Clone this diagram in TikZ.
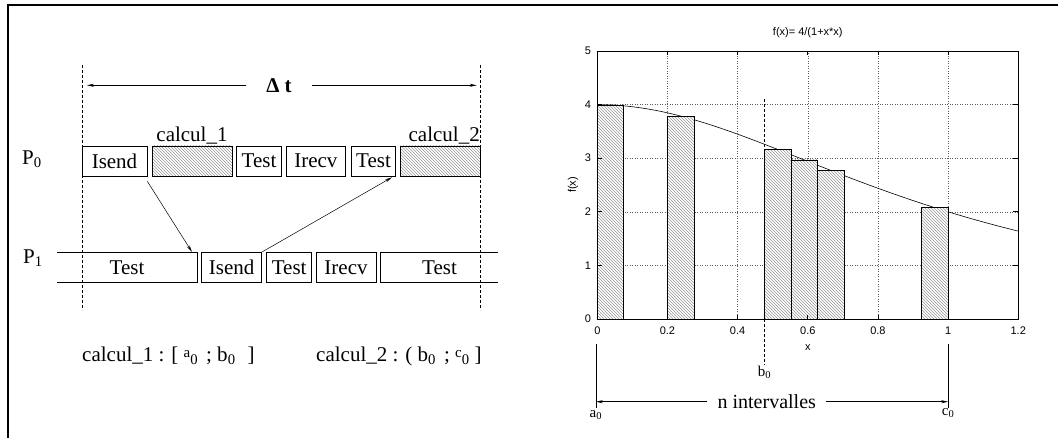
\documentclass[tikz,border=0pt]{standalone}
\usepackage{fontspec}
\setmainfont{Liberation Serif}
\newfontfamily\plotfont{Liberation Sans}
\usetikzlibrary{arrows.meta,patterns}
\newcommand\slotfont{\fontsize{21}{24}\selectfont}
\newcommand\markfont{\fontsize{15}{17}\selectfont}
\newcommand\axisfont{\plotfont\fontsize{11}{13}\selectfont}
\tikzset{
  slot/.style={draw, line width=0.6pt, minimum height=30pt, inner sep=0pt, font=\slotfont},
  calc/.style={slot, preaction={fill=white}, pattern=north west lines, pattern color=gray!80},
  msg/.style={-{Stealth[length=7pt,width=3pt]}, line width=0.5pt},
  limit/.style={dash pattern=on 3pt off 2pt, line width=0.5pt},
  gridline/.style={dotted, gray!70!black, line width=0.5pt},
  bar/.style={draw, line width=0.8pt, preaction={fill=white}, pattern=north west lines, pattern color=gray!80},
}
\begin{document}
\begin{tikzpicture}[x=1pt,y=-1pt,>=Stealth]
    \useasboundingbox (0,0) rectangle (1059,438);
    \draw[line width=2pt] (8,438) -- (8,5) -- (1058,5);
    % time window
    \coordinate (tL) at (82,65);  \coordinate (bL) at (82,310);
    \coordinate (tR) at (480.7,65); \coordinate (bR) at (480.7,310);
    \draw[limit] (tL) -- (bL);
    \draw[limit] (tR) -- (bR);
    \coordinate (dtL) at (87,85.3); \coordinate (dtR) at (476.7,85.3);
    \node[font=\slotfont\bfseries, inner sep=0pt, minimum width=65pt] (dt) at (279,85.3) {Δ t};
    \draw[msg] (dt.west) -- (dtL);
    \draw[msg] (dt.east) -- (dtR);
    % process P0
    \node[font=\slotfont] (p0) at (32,159) {P\textsubscript{0}};
    \node[slot, minimum width=65pt] (isendA) at (114.5,161) {Isend};
    \node[calc, minimum width=80pt] (calcA) at (192,161) {};
    \node[slot, minimum width=45.4pt] (testA) at (259,161) {Test};
    \node[slot, minimum width=59.7pt] (irecvA) at (315.9,161) {Irecv};
    \node[slot, minimum width=44.4pt] (testB) at (373.5,161) {Test};
    \node[calc, minimum width=80pt] (calcB) at (440.7,161) {};
    \node[font=\slotfont, anchor=south, inner sep=1pt] (lblA) at (calcA.north) {calcul\_1};
    \node[font=\slotfont, anchor=south east, inner sep=1pt] (lblB) at (calcB.north east) {calcul\_2};
    % process P1
    \node[font=\slotfont] (p1) at (33,258) {P\textsubscript{1}};
    \node[slot, draw=none, minimum width=139.4pt] (testC) at (127,267.3) {Test};
    \draw[line width=0.6pt] (testC.north west) -- (testC.north east) -- (testC.south east) -- (testC.south west);
    \node[slot, minimum width=60pt] (isendB) at (231.7,267.3) {Isend};
    \node[slot, minimum width=45pt] (testD) at (289.2,267.3) {Test};
    \node[slot, minimum width=60pt] (irecvB) at (346,267.3) {Irecv};
    \node[slot, draw=none, minimum width=117pt] (testE) at (439.5,267.3) {Test};
    \draw[line width=0.6pt] (testE.north east) -- (testE.north west) -- (testE.south west) -- (testE.south east);
    % messages
    \draw[msg] ([yshift=-5pt]isendA.south east) -- ([xshift=-5pt]testC.north east);
    \draw[msg] (isendB.north east) -- ([xshift=-4pt,yshift=-1pt]testB.south east);
    % ranges
    \node[font=\slotfont, anchor=base west, inner sep=0pt] (rangeA) at (82,361)
        {calcul\_1 : [ \raisebox{4pt}{\markfont a}\textsubscript{0}\hspace{8pt}; b\textsubscript{0}\hspace{12pt}]};
    \node[font=\slotfont, anchor=base west, inner sep=0pt] (rangeB) at (316,361)
        {calcul\_2 : ( b\textsubscript{0}\hspace{8pt}; \raisebox{4pt}{\markfont c}\textsubscript{0}\hspace{5pt}]};
    % plot of f
    \begin{scope}[shift={(597.3,319)}, x=350.8pt, y=53.6pt, font=\axisfont]
        \foreach \gx in {0.2,0.4,0.6,0.8,1.0} \draw[gridline] (\gx,0) -- (\gx,5);
        \foreach \gy in {1,...,4} \draw[gridline] (0,\gy) -- (1.2,\gy);
        \draw[line width=0.6pt, domain=0:1.2, samples=80] plot (\x,{4/(1+\x*\x)});
        \foreach \bx in {0,0.2,0.4765,0.552,0.6275,0.9245}
            \draw[bar] (\bx,0) rectangle ({\bx+0.0755},{4/(1+(\bx+0.03775)^2)});
        \draw[line width=0.8pt] (0,0) rectangle (1.2,5);
        \foreach \gx in {0,0.2,0.4,0.6,0.8,1,1.2} {
            \draw[line width=0.6pt] (\gx,0) -- (\gx,0.08);
            \draw[line width=0.6pt] (\gx,5) -- (\gx,4.92);
            \node[anchor=north] at (\gx,-0.08) {\gx};
        }
        \foreach \gy in {0,...,5} {
            \draw[line width=0.6pt] (0,\gy) -- (0.014,\gy);
            \draw[line width=0.6pt] (1.2,\gy) -- (1.186,\gy);
            \node[anchor=east] at (-0.008,\gy) {\gy};
        }
        \node[rotate=90] (ylbl) at (-0.069,2.5) {f(x)};
        \node (xlbl) at (0.6,-0.535) {x};
        \node (title) at (0.6,5.336) {f(x)= 4/(1+x*x)};
        % interval markers
        \coordinate (bTop) at (0.4765,4.1); \coordinate (bBot) at (0.4765,-0.86);
        \draw[limit] (bTop) -- (bBot);
        \node[font=\markfont, anchor=north, inner sep=1pt] (b0) at (bBot) {b\textsubscript{0}};
        \coordinate (aTop) at (-0.004,-0.466); \coordinate (aBot) at (-0.004,-1.66);
        \coordinate (cTop) at (1,-0.466); \coordinate (cBot) at (1,-1.66);
        \draw[line width=0.6pt] (aTop) -- (aBot);
        \draw[line width=0.6pt] (cTop) -- (cBot);
        \coordinate (aMid) at (-0.004,-1.543); \coordinate (cMid) at (1,-1.543);
        \node[font=\fontsize{20}{22}\selectfont, inner sep=0pt, minimum width=119pt] (nint) at (0.483,-1.543) {n intervalles};
        \draw[msg] (nint.west) -- (aMid);
        \draw[msg] (nint.east) -- (cMid);
        \node[font=\markfont, anchor=north, inner sep=2pt] (a0) at (aBot) {a\textsubscript{0}};
        \node[font=\markfont, anchor=north, inner sep=2pt] (c0) at ([yshift=2pt]cBot) {c\textsubscript{0}};
    \end{scope}
\end{tikzpicture}
\end{document}
